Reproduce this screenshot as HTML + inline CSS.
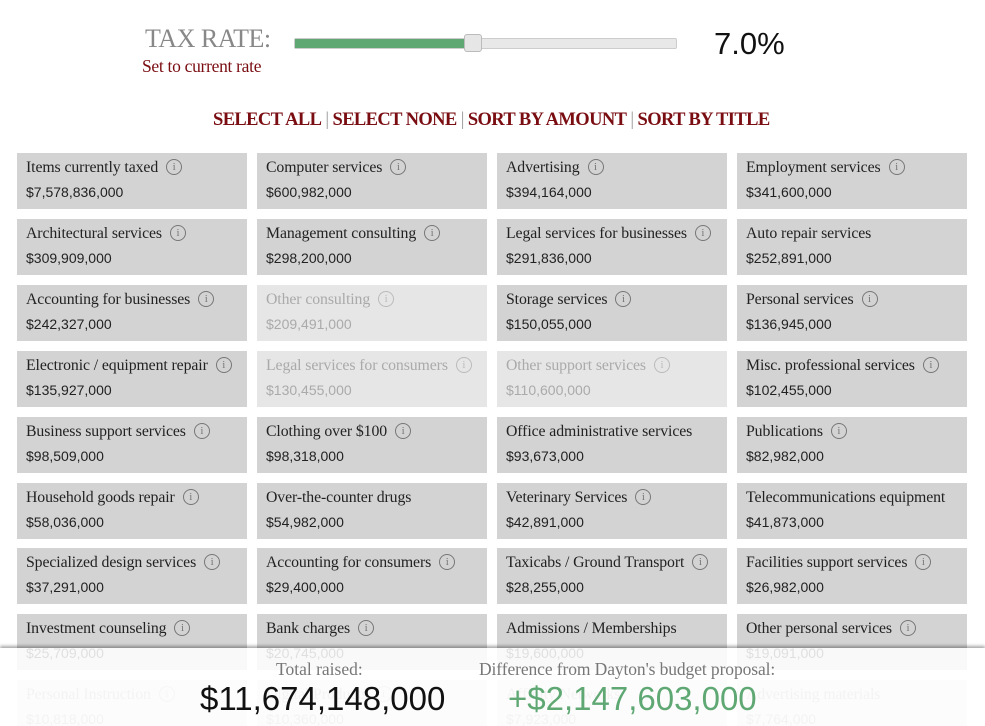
<!DOCTYPE html>
<html style="overflow:hidden"><head><meta charset="utf-8"><style>
html,body{margin:0;width:985px;height:726px;overflow:hidden}
body{background:#fff;position:relative;font-family:"Liberation Serif",serif}
.abs{position:absolute}
.tile{position:absolute;width:230px;height:56px;background:#d3d3d3;color:#222}
.tile.off{background:#e6e6e6;color:#aaa}
.nm{position:absolute;left:9px;top:6px;font-size:15.8px;white-space:nowrap;letter-spacing:-0.1px}
.am{position:absolute;left:9px;top:31px;font-size:14px;font-family:"Liberation Sans",sans-serif}
.ic{display:inline-block;width:14px;height:14px;border:1px solid currentColor;border-radius:50%;font-size:11px;line-height:14px;text-align:center;margin-left:8px;vertical-align:2px;color:#777;font-family:"Liberation Serif",serif}
.off .ic{color:#bbb}
.links a{color:#7a0d12;text-decoration:none;font-weight:bold}
.links span{color:#999}
</style></head><body>
<div class="abs" style="left:145px;top:24px;font-size:26px;color:#888;letter-spacing:-0.5px">TAX RATE:</div>
<div class="abs" style="left:142px;top:56px;font-size:17.5px;color:#7a0d12;letter-spacing:-0.3px">Set to current rate</div>
<div class="abs" style="left:294px;top:38px;width:381px;height:9px;background:#e8e8e8;border:1px solid #ccc;border-radius:2px"></div>
<div class="abs" style="left:295px;top:39px;width:172px;height:9px;background:#5fa874"></div>
<div class="abs" style="left:464px;top:34px;width:16px;height:16px;background:#e6e6e6;border:1px solid #bbb;border-radius:3px"></div>
<div class="abs" style="left:714px;top:26px;font-size:31px;font-family:'Liberation Sans',sans-serif;color:#111">7.0%</div>
<div class="abs links" style="left:213px;top:110px;font-size:18.5px;white-space:nowrap;letter-spacing:-0.6px">
<a>SELECT ALL</a> <span>|</span> <a>SELECT NONE</a> <span>|</span> <a>SORT BY AMOUNT</a> <span>|</span> <a>SORT BY TITLE</a></div>
<div id="tiles"></div>
<div class="abs" style="left:0;top:648px;width:985px;height:78px;background:rgba(255,255,255,0.86);box-shadow:0 -2px 3px rgba(0,0,0,0.35)"></div>
<div class="abs" style="left:276px;top:659px;font-size:17.5px;color:#777">Total raised:</div>
<div class="abs" style="left:200px;top:680px;font-size:33px;font-family:'Liberation Sans',sans-serif;color:#111">$11,674,148,000</div>
<div class="abs" style="left:479px;top:659px;font-size:17.5px;color:#777;letter-spacing:-0.1px">Difference from Dayton's budget proposal:</div>
<div class="abs" style="left:508px;top:680px;font-size:33px;font-family:'Liberation Sans',sans-serif;color:#5fa874">+$2,147,603,000</div>
<script>
const names=["Items currently taxed","Computer services","Advertising","Employment services","Architectural services","Management consulting","Legal services for businesses","Auto repair services","Accounting for businesses","Other consulting","Storage services","Personal services","Electronic / equipment repair","Legal services for consumers","Other support services","Misc. professional services","Business support services","Clothing over $100","Office administrative services","Publications","Household goods repair","Over-the-counter drugs","Veterinary Services","Telecommunications equipment","Specialized design services","Accounting for consumers","Taxicabs / Ground Transport","Facilities support services","Investment counseling","Bank charges","Admissions / Memberships","Other personal services","Personal Instruction","Digital Products","Affinity Networks","Advertising materials"];
const amounts=["$7,578,836,000","$600,982,000","$394,164,000","$341,600,000","$309,909,000","$298,200,000","$291,836,000","$252,891,000","$242,327,000","$209,491,000","$150,055,000","$136,945,000","$135,927,000","$130,455,000","$110,600,000","$102,455,000","$98,509,000","$98,318,000","$93,673,000","$82,982,000","$58,036,000","$54,982,000","$42,891,000","$41,873,000","$37,291,000","$29,400,000","$28,255,000","$26,982,000","$25,709,000","$20,745,000","$19,600,000","$19,091,000","$10,818,000","$10,360,000","$7,923,000","$7,764,000"];
const off=[9,13,14,32,33,34,35];
const noInfo=[7,18,21,23,30,34,35];
const c=document.getElementById('tiles');
names.forEach((n,i)=>{
 const d=document.createElement('div');
 d.className='tile'+(off.includes(i)?' off':'');
 
 
 d.style.left=(17+(i%4)*240)+'px';
 d.style.top=(153+Math.floor(i/4)*65.9)+'px';
 d.innerHTML='<div class="nm"></div><div class="am"></div>';
 d.firstChild.textContent=n;
 if(!noInfo.includes(i)){const s=document.createElement('span');s.className='ic';s.textContent='i';
 
 
 d.firstChild.appendChild(s);}
 d.lastChild.textContent=amounts[i];
 c.appendChild(d);
});
</script>
</body></html>
